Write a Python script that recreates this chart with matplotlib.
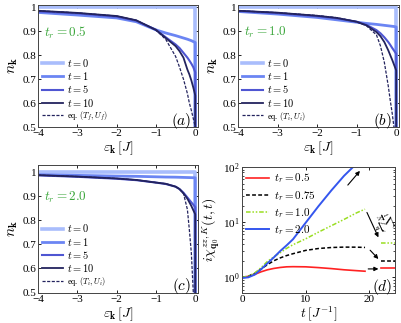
import numpy as np
import matplotlib
matplotlib.use('Agg')
import matplotlib.pyplot as plt
from matplotlib.ticker import FuncFormatter

plt.rcParams['font.family'] = ['Liberation Serif', 'DejaVu Serif']
plt.rcParams['mathtext.fontset'] = 'cm'
plt.rcParams['xtick.direction'] = 'in'
plt.rcParams['ytick.direction'] = 'in'
plt.rcParams['xtick.top'] = True
plt.rcParams['ytick.right'] = True

# momentum distributions n_k
eps = [-4, -3, -2, -1.5, -1, -0.75, -0.5, -0.4, -0.3, -0.2, -0.15, -0.1, -0.05, 0]
drop_to = 0.3  # n_k just above eps=0 (off the visible range)

n_a = {
    't0': [1.0] * 14,
    't1': [0.979, 0.968, 0.956, 0.94, 0.906, 0.893, 0.882, 0.877, 0.872, 0.867, 0.864, 0.861, 0.857, 0.853],
    't5': [0.983, 0.975, 0.961, 0.944, 0.906, 0.875, 0.845, 0.83, 0.81, 0.79, 0.778, 0.765, 0.75, 0.728],
    't10': [0.986, 0.977, 0.964, 0.946, 0.906, 0.872, 0.838, 0.817, 0.79, 0.74, 0.72, 0.695, 0.665, 0.632],
    'eq': [0.986, 0.977, 0.964, 0.946, 0.905, 0.866, 0.795, 0.75, 0.70, 0.64, 0.60, 0.57, 0.535, 0.50],
}
n_b = {
    't0': [1.0] * 14,
    't1': [0.983, 0.972, 0.958, 0.948, 0.938, 0.933, 0.929, 0.927, 0.925, 0.923, 0.922, 0.921, 0.92, 0.918],
    't5': [0.985, 0.976, 0.963, 0.954, 0.94, 0.927, 0.905, 0.892, 0.875, 0.855, 0.843, 0.83, 0.818, 0.806],
    't10': [0.986, 0.978, 0.965, 0.956, 0.94, 0.925, 0.897, 0.88, 0.855, 0.82, 0.80, 0.78, 0.758, 0.736],
    'eq': [0.986, 0.978, 0.966, 0.957, 0.94, 0.923, 0.885, 0.84, 0.77, 0.67, 0.61, 0.555, 0.49, 0.42],
}
n_c = {
    't0': [1.0] * 14,
    't1': [0.990, 0.987, 0.984, 0.983, 0.981, 0.980, 0.9795, 0.979, 0.9785, 0.978, 0.9778, 0.9775, 0.9772, 0.977],
    't5': [0.987, 0.981, 0.973, 0.967, 0.957, 0.951, 0.94, 0.93, 0.915, 0.895, 0.885, 0.875, 0.865, 0.855],
    't10': [0.988, 0.982, 0.974, 0.968, 0.957, 0.952, 0.94, 0.93, 0.912, 0.89, 0.875, 0.86, 0.842, 0.825],
    'eq': [0.988, 0.982, 0.974, 0.968, 0.957, 0.952, 0.94, 0.93, 0.912, 0.845, 0.76, 0.665, 0.50, 0.30],
}

# response function, panel (d)
t_d = [0, 1, 2, 3, 4, 5, 6, 7, 8, 10, 12, 14, 16, 18, 19.3]
chi_05 = [1.0, 1.04, 1.13, 1.26, 1.37, 1.45, 1.51, 1.55, 1.56, 1.55, 1.5, 1.44, 1.37, 1.32, 1.29]
chi_075 = [1.0, 1.05, 1.18, 1.42, 1.7, 2.0, 2.25, 2.48, 2.68, 3.08, 3.33, 3.47, 3.53, 3.52, 3.48]
chi_10 = [1.0, 1.05, 1.2, 1.5, 1.95, 2.35, 2.8, 3.35, 3.9, 5.0, 6.6, 8.6, 11.2, 14.8, 17.2]
t_blue = [0, 1, 2, 3, 4, 5, 6, 7, 8, 10, 12, 14, 16, 17.5]
chi_20 = [0.97, 1.0, 1.12, 1.4, 1.8, 2.3, 3.0, 3.8, 4.9, 9.8, 19.5, 37.4, 69, 102]
t_tail = [21.8, 24.5]
tail_05, tail_075, tail_10 = 1.47, 2.0, 4.25

styles = {
    't0': dict(color='#a9bdfc', lw=2.6, label='$t = 0$'),
    't1': dict(color='#6b85f3', lw=2.0, label='$t = 1$'),
    't5': dict(color='#4f56d2', lw=1.5, label='$t = 5$'),
    't10': dict(color='#23235e', lw=1.3, label='$t = 10$'),
    'eq': dict(color='#23235e', lw=0.9, ls=(0, (2.5, 1.2))),
}

fig = plt.figure(figsize=(4.01, 3.23), dpi=100)
ax_a = fig.add_axes([0.0948, 0.6068, 0.399, 0.3777])
ax_b = fig.add_axes([0.5935, 0.6068, 0.4015, 0.3777])
ax_c = fig.add_axes([0.0948, 0.0944, 0.399, 0.3947])
ax_d = fig.add_axes([0.6035, 0.0929, 0.3815, 0.3901])

fmt = FuncFormatter(lambda v, p: '1' if abs(v - 1) < 1e-9 else f'{v:.1f}')

for ax, data, tr, tag, sub, ytop in [(ax_a, n_a, '0.5', 'a', 'f', 1.01),
                                     (ax_b, n_b, '1.0', 'b', 'i', 1.01),
                                     (ax_c, n_c, '2.0', 'c', 'i', 1.03)]:
    for key in ['t0', 't1', 't5', 't10', 'eq']:
        st = dict(styles[key])
        if key == 'eq':
            st['label'] = 'eq. $(T_%s, U_%s)$' % (sub, sub)
        x = np.r_[eps, eps[-1]]
        y = np.r_[data[key], drop_to]
        ax.plot(x, y, **st)
    ax.set_xlim(-4, 0.07)
    ax.set_ylim(0.5, ytop)
    ax.set_xticks([-4, -3, -2, -1, 0])
    ax.set_yticks([0.5, 0.6, 0.7, 0.8, 0.9, 1.0])
    ax.yaxis.set_major_formatter(fmt)
    ax.tick_params(labelsize=8, length=2.5, width=0.6, pad=1.5)
    ax.tick_params(axis='y', pad=1.0)
    for s in ax.spines.values():
        s.set_linewidth(0.7)
        s.set_color('#444444')
    ax.set_xlabel(r'$\varepsilon_{\mathbf{k}}\,[J]$', fontsize=10, labelpad=1)
    ax.set_ylabel(r'$n_{\mathbf{k}}$', fontsize=11, labelpad=2)
    ax.text(-3.85, 0.895, r'$t_r = %s$' % tr, color='#3aa63a', fontsize=9.5, va='center')
    ax.text(-0.1, 0.525, r'$(%s)$' % tag, fontsize=11, ha='right', va='center')
    leg = ax.legend(loc='lower left', frameon=False, fontsize=7.5, handlelength=2.0,
                    labelspacing=0.12, borderaxespad=0.2, handletextpad=0.4,
                    borderpad=0.2)
    leg.get_texts()[4].set_fontsize(6)

# panel (d)
ax_d.plot(t_d, chi_05, color='#ff2222', lw=1.2, label='$t_r = 0.5$')
ax_d.plot(t_d, chi_075, color='black', lw=1.1, ls=(0, (2.5, 1.5)), label='$t_r = 0.75$')
ax_d.plot(t_d, chi_10, color='#9ade22', lw=1.1, ls=(0, (3, 1.2, 1, 1.2, 1, 1.2)), label='$t_r = 1.0$')
ax_d.plot(t_blue, chi_20, color='#3456ee', lw=1.4, label='$t_r = 2.0$')
ax_d.plot(t_tail, [tail_05] * 2, color='#ff2222', lw=1.2)
ax_d.plot(t_tail, [tail_075] * 2, color='black', lw=1.1, ls=(0, (2.5, 1.5)))
ax_d.plot(t_tail, [tail_10] * 2, color='#9ade22', lw=1.1, ls=(0, (3, 1.2, 1, 1.2, 1, 1.2)))
ax_d.set_yscale('log')
ax_d.set_xlim(0, 24)
ax_d.set_ylim(0.52, 100)
ax_d.set_xticks([0, 10, 20])
ax_d.tick_params(labelsize=8, length=2.5, width=0.6, pad=1.5)
ax_d.tick_params(which='minor', length=1.5, width=0.5)
for s in ax_d.spines.values():
    s.set_linewidth(0.7)
    s.set_color('#444444')
ax_d.set_xlabel(r'$t\;[J^{-1}]$', fontsize=9.5, labelpad=0)
ax_d.set_ylabel(r'$i\chi^{zz,K}_{\mathbf{q}_0}(t,t)$', fontsize=10, labelpad=1)
ax_d.legend(loc='upper left', frameon=False, fontsize=8, handlelength=2.0,
            labelspacing=0.3, borderaxespad=0.2, handletextpad=0.5, borderpad=0.2)

arrow = dict(arrowstyle='-|>', color='black', lw=0.8, mutation_scale=6, shrinkA=0, shrinkB=0)
ax_d.annotate('', xy=(18.5, 85), xytext=(16.6, 47), arrowprops=arrow)
ax_d.annotate('', xy=(21.4, 5.3), xytext=(19.6, 15), arrowprops=arrow)
ax_d.annotate('', xy=(21.4, 2.15), xytext=(20.1, 3.1), arrowprops=arrow)
ax_d.annotate('', xy=(21.4, 1.42), xytext=(19.8, 1.42), arrowprops=arrow)
ax_d.text(22.0, 9.5, r'$\frac{1}{N}\sum_{\mathbf{q}}$', rotation=-65, fontsize=6,
          ha='center', va='center')
ax_d.text(23.6, 0.66, '$(d)$', fontsize=11, ha='right', va='center')

fig.savefig('out.png', dpi=100)
